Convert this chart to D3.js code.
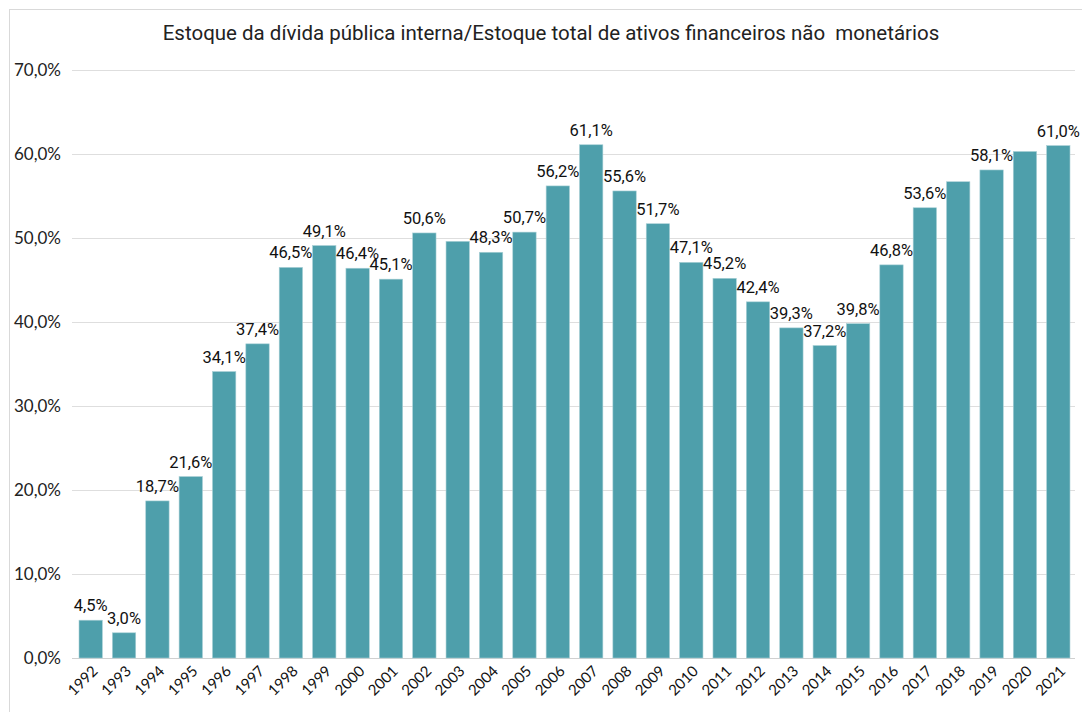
<!DOCTYPE html>
<html>
<head>
<meta charset="utf-8">
<script src="https://cdn.jsdelivr.net/npm/d3@7"></script>
<style>
  body { margin: 0; background: #fff; }
  svg { display: block; }
</style>
</head>
<body>
<div class="svg-container"></div>
<script>
// data
let years = ["1992","1993","1994","1995","1996","1997","1998","1999","2000","2001",
             "2002","2003","2004","2005","2006","2007","2008","2009","2010","2011",
             "2012","2013","2014","2015","2016","2017","2018","2019","2020","2021"];
let values = [4.5, 3.0, 18.7, 21.6, 34.1, 37.4, 46.5, 49.1, 46.4, 45.1,
              50.6, 49.6, 48.3, 50.7, 56.2, 61.1, 55.6, 51.7, 47.1, 45.2,
              42.4, 39.3, 37.2, 39.8, 46.8, 53.6, 56.7, 58.1, 60.3, 61.0];
// some bars carry no data label in the original
let hideLabel = ["2003", "2018", "2020"];
let yTicks = [0, 10, 20, 30, 40, 50, 60, 70];

let titleText = "Estoque da dívida pública interna/Estoque total de ativos financeiros não\u00a0 monetários";

let width = 1082;
let height = 712;
let margin = {top: 70, right: 10, bottom: 54, left: 72};
let plotW = 1003;
let plotH = 588;

let fmt = v => v.toFixed(1).replace(".", ",") + "%";

let bars = years.map((yr, i) => ({year: yr, value: values[i]}));

let svg = d3.select(".svg-container")
    .append("svg")
    .attr("width", width)
    .attr("height", height);

// chart area border
svg.append("rect")
    .attr("x", 9.5).attr("y", 9.5)
    .attr("width", width).attr("height", height)
    .attr("fill", "none")
    .attr("stroke", "#d9d9d9");

svg.append("text")
    .attr("x", 551)
    .attr("y", 40)
    .attr("text-anchor", "middle")
    .style("font-family", "Roboto")
    .style("font-size", "20.5px")
    .style("fill", "#222")
    .text(titleText);

let g = svg.append("g").attr("transform", "translate(" + margin.left + "," + margin.top + ")");

let x = d3.scaleBand().domain(years).range([0, 1005]).paddingInner(0.3).paddingOuter(0.21);
let y = d3.scaleLinear().domain([0, 70]).range([plotH, 0]);

// gridlines
g.append("g")
    .selectAll("line")
    .data(yTicks)
    .enter()
    .append("line")
    .attr("x1", 0)
    .attr("x2", plotW)
    .attr("y1", d => Math.round(y(d)) + 0.5)
    .attr("y2", d => Math.round(y(d)) + 0.5)
    .attr("stroke", d => d === 0 ? "#d0d0d0" : "#dedede")
    .attr("stroke-width", 1);

// y labels
g.append("g")
    .selectAll("text")
    .data(yTicks)
    .enter()
    .append("text")
    .attr("x", -11)
    .attr("y", d => y(d) + 6)
    .attr("text-anchor", "end")
    .style("font-family", "Lato")
    .style("font-size", "17px")
    .style("fill", "#222")
    .text(d => d.toFixed(1).replace(".", ",") + "%");

// bars
g.append("g")
    .selectAll("rect")
    .data(bars)
    .enter()
    .append("rect")
    .attr("x", d => x(d.year))
    .attr("y", d => y(d.value))
    .attr("width", x.bandwidth())
    .attr("height", d => plotH - y(d.value))
    .attr("fill", "#4e9fab")
    .attr("stroke", "#a9d0d6")
    .attr("stroke-width", 0.6);

// data labels
g.append("g")
    .selectAll("text")
    .data(bars.filter(d => hideLabel.indexOf(d.year) < 0))
    .enter()
    .append("text")
    .attr("x", d => x(d.year) + x.bandwidth() / 2)
    .attr("y", d => y(d.value) - 9)
    .attr("text-anchor", "middle")
    .style("font-family", "Roboto")
    .style("font-size", "16.5px")
    .style("fill", "#111")
    .text(d => fmt(d.value));

// x labels, rotated
g.append("g")
    .selectAll("text")
    .data(years)
    .enter()
    .append("text")
    .attr("transform", d => "translate(" + (x(d) + x.bandwidth() / 2 + 8) + "," + (plotH + 14) + ") rotate(-45)")
    .attr("text-anchor", "end")
    .style("font-family", "Lato")
    .style("font-size", "15px")
    .style("fill", "#111")
    .text(d => d);
</script>
</body>
</html>
